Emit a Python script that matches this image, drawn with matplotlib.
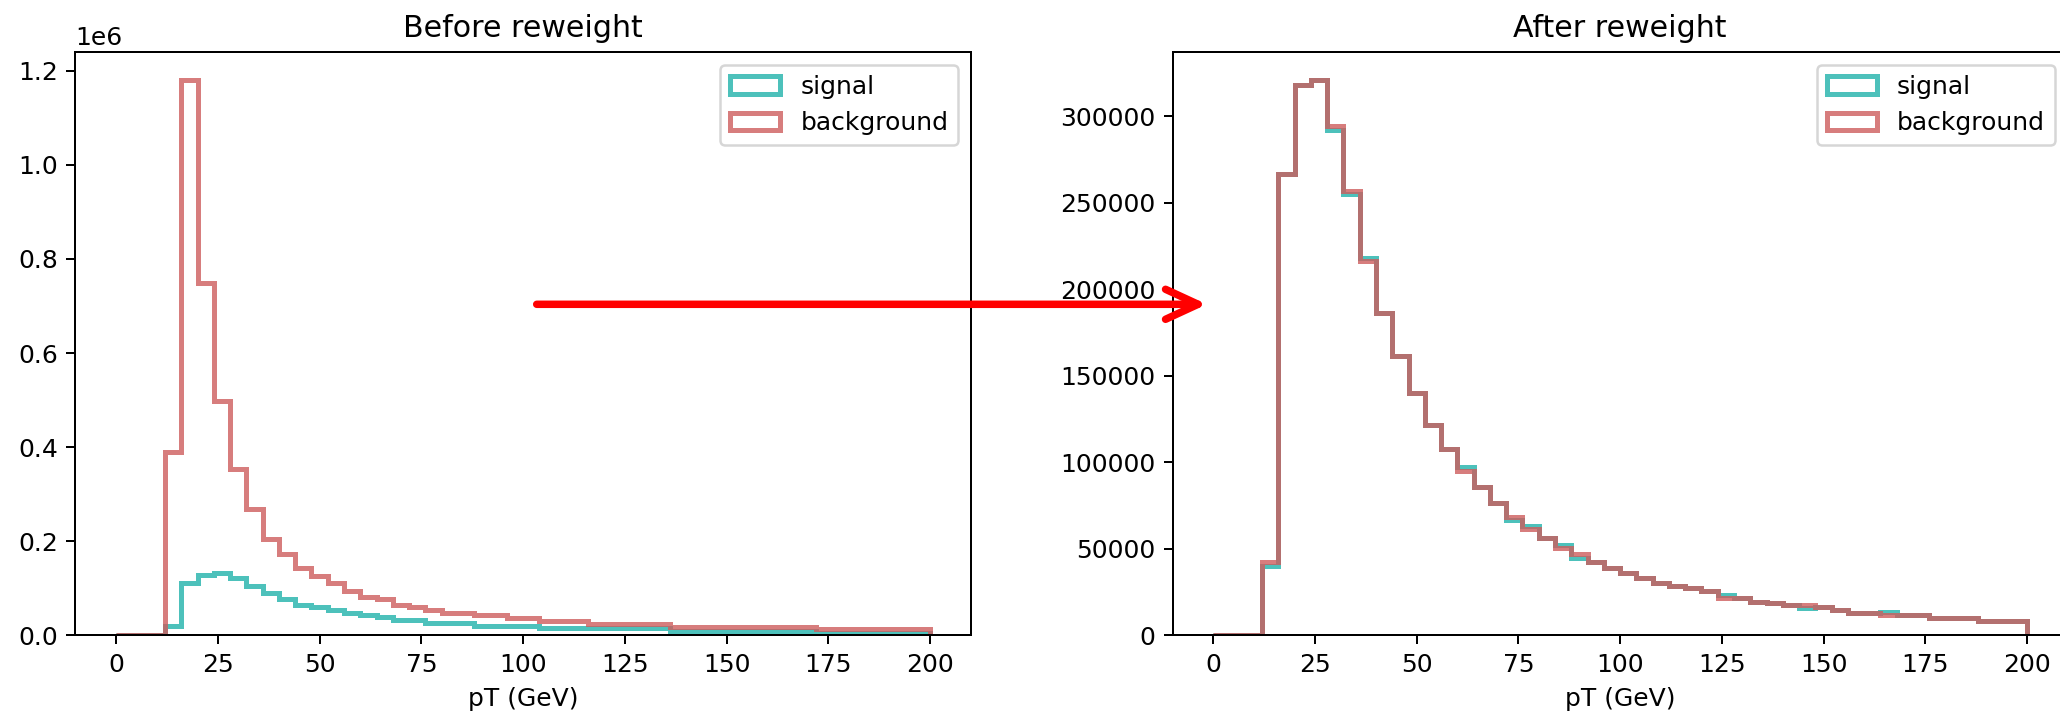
import numpy as np
import matplotlib
matplotlib.use("Agg")
import matplotlib.pyplot as plt
from matplotlib.patches import FancyArrowPatch

# pT binning: 4 GeV bins from 0 to 200
edges = np.arange(0, 204, 4)
centers = (edges[:-1] + edges[1:]) / 2

# bin contents before reweighting
sig_before = [
    0, 0, 0, 20500, 112000, 128000, 133000, 121000, 105000, 89000,
    77000, 64500, 60000, 54000, 48000, 43000, 38000, 32600, 32600, 26700,
    26700, 26700, 20500, 20500, 20500, 20500, 14900, 14900, 14900, 14900,
    14900, 14900, 14900, 14900, 9200, 9200, 9200, 9200, 9200, 9200,
    9200, 9200, 9200, 5600, 5600, 5600, 5600, 5600, 5600, 5600,
]
bkg_before = [
    0, 0, 0, 389000, 1180000, 749000, 497000, 354000, 269000, 205000,
    172000, 143000, 127000, 111000, 94000, 82000, 76600, 64500, 59600, 54000,
    48000, 48000, 43000, 43000, 36000, 36000, 30000, 30000, 30000, 24000,
    24000, 24000, 24000, 24000, 18300, 18300, 18300, 18300, 18300, 18300,
    18300, 18300, 18300, 12800, 12800, 12800, 12800, 12800, 12800, 12800,
]

# bin contents after reweighting
sig_after = [
    0, 0, 0, 40270, 266860, 317950, 320850, 292300, 255120, 217870,
    186280, 161580, 140000, 121660, 107600, 97190, 85620, 76360, 66700, 63200,
    56100, 52200, 44500, 42600, 39100, 36200, 33300, 30400, 28700, 27200,
    25600, 23300, 21400, 19400, 18900, 17500, 15600, 16200, 14600, 13100,
    13100, 13700, 11800, 11800, 10300, 10300, 10300, 8300, 8300, 8300,
]
bkg_after = [
    0, 0, 0, 42580, 266860, 317950, 320850, 294230, 257030, 216130,
    186280, 161580, 140000, 121660, 107600, 95050, 85620, 76360, 68600, 61300,
    56100, 50300, 47000, 42600, 39100, 36200, 33300, 30400, 28700, 27200,
    25600, 21400, 21400, 19400, 18900, 17500, 17500, 16200, 14600, 13100,
    13100, 11700, 11800, 11800, 10300, 10300, 10300, 8300, 8300, 8300,
]

sig_color = "lightseagreen"
bkg_color = "indianred"

fig = plt.figure(figsize=(2060 / 180, 720 / 180), dpi=180)
ax1 = fig.add_axes([0.0366, 0.1176, 0.4347, 0.8097])
ax2 = fig.add_axes([0.5692, 0.1176, 0.4345, 0.8097])

for ax, sig, bkg, title in [(ax1, sig_before, bkg_before, "Before reweight"),
                            (ax2, sig_after, bkg_after, "After reweight")]:
    ax.hist(centers, bins=edges, weights=sig, histtype="step",
            color=sig_color, alpha=0.8, lw=2, label="signal")
    ax.hist(centers, bins=edges, weights=bkg, histtype="step",
            color=bkg_color, alpha=0.8, lw=2, label="background")
    ax.set_title(title)
    ax.set_xlabel("pT (GeV)")
    ax.legend(loc="upper right")

# arrow linking the two panels
arrow = FancyArrowPatch((536.7 / 2060, 1 - 304.3 / 720), (1207 / 2060, 1 - 304.3 / 720),
                        transform=fig.transFigure, arrowstyle="->,head_length=1.3,head_width=0.6",
                        mutation_scale=10, color="red", lw=3,
                        shrinkA=0, shrinkB=0, capstyle="round", zorder=5)
fig.add_artist(arrow)

fig.savefig("out.png", dpi=180)
